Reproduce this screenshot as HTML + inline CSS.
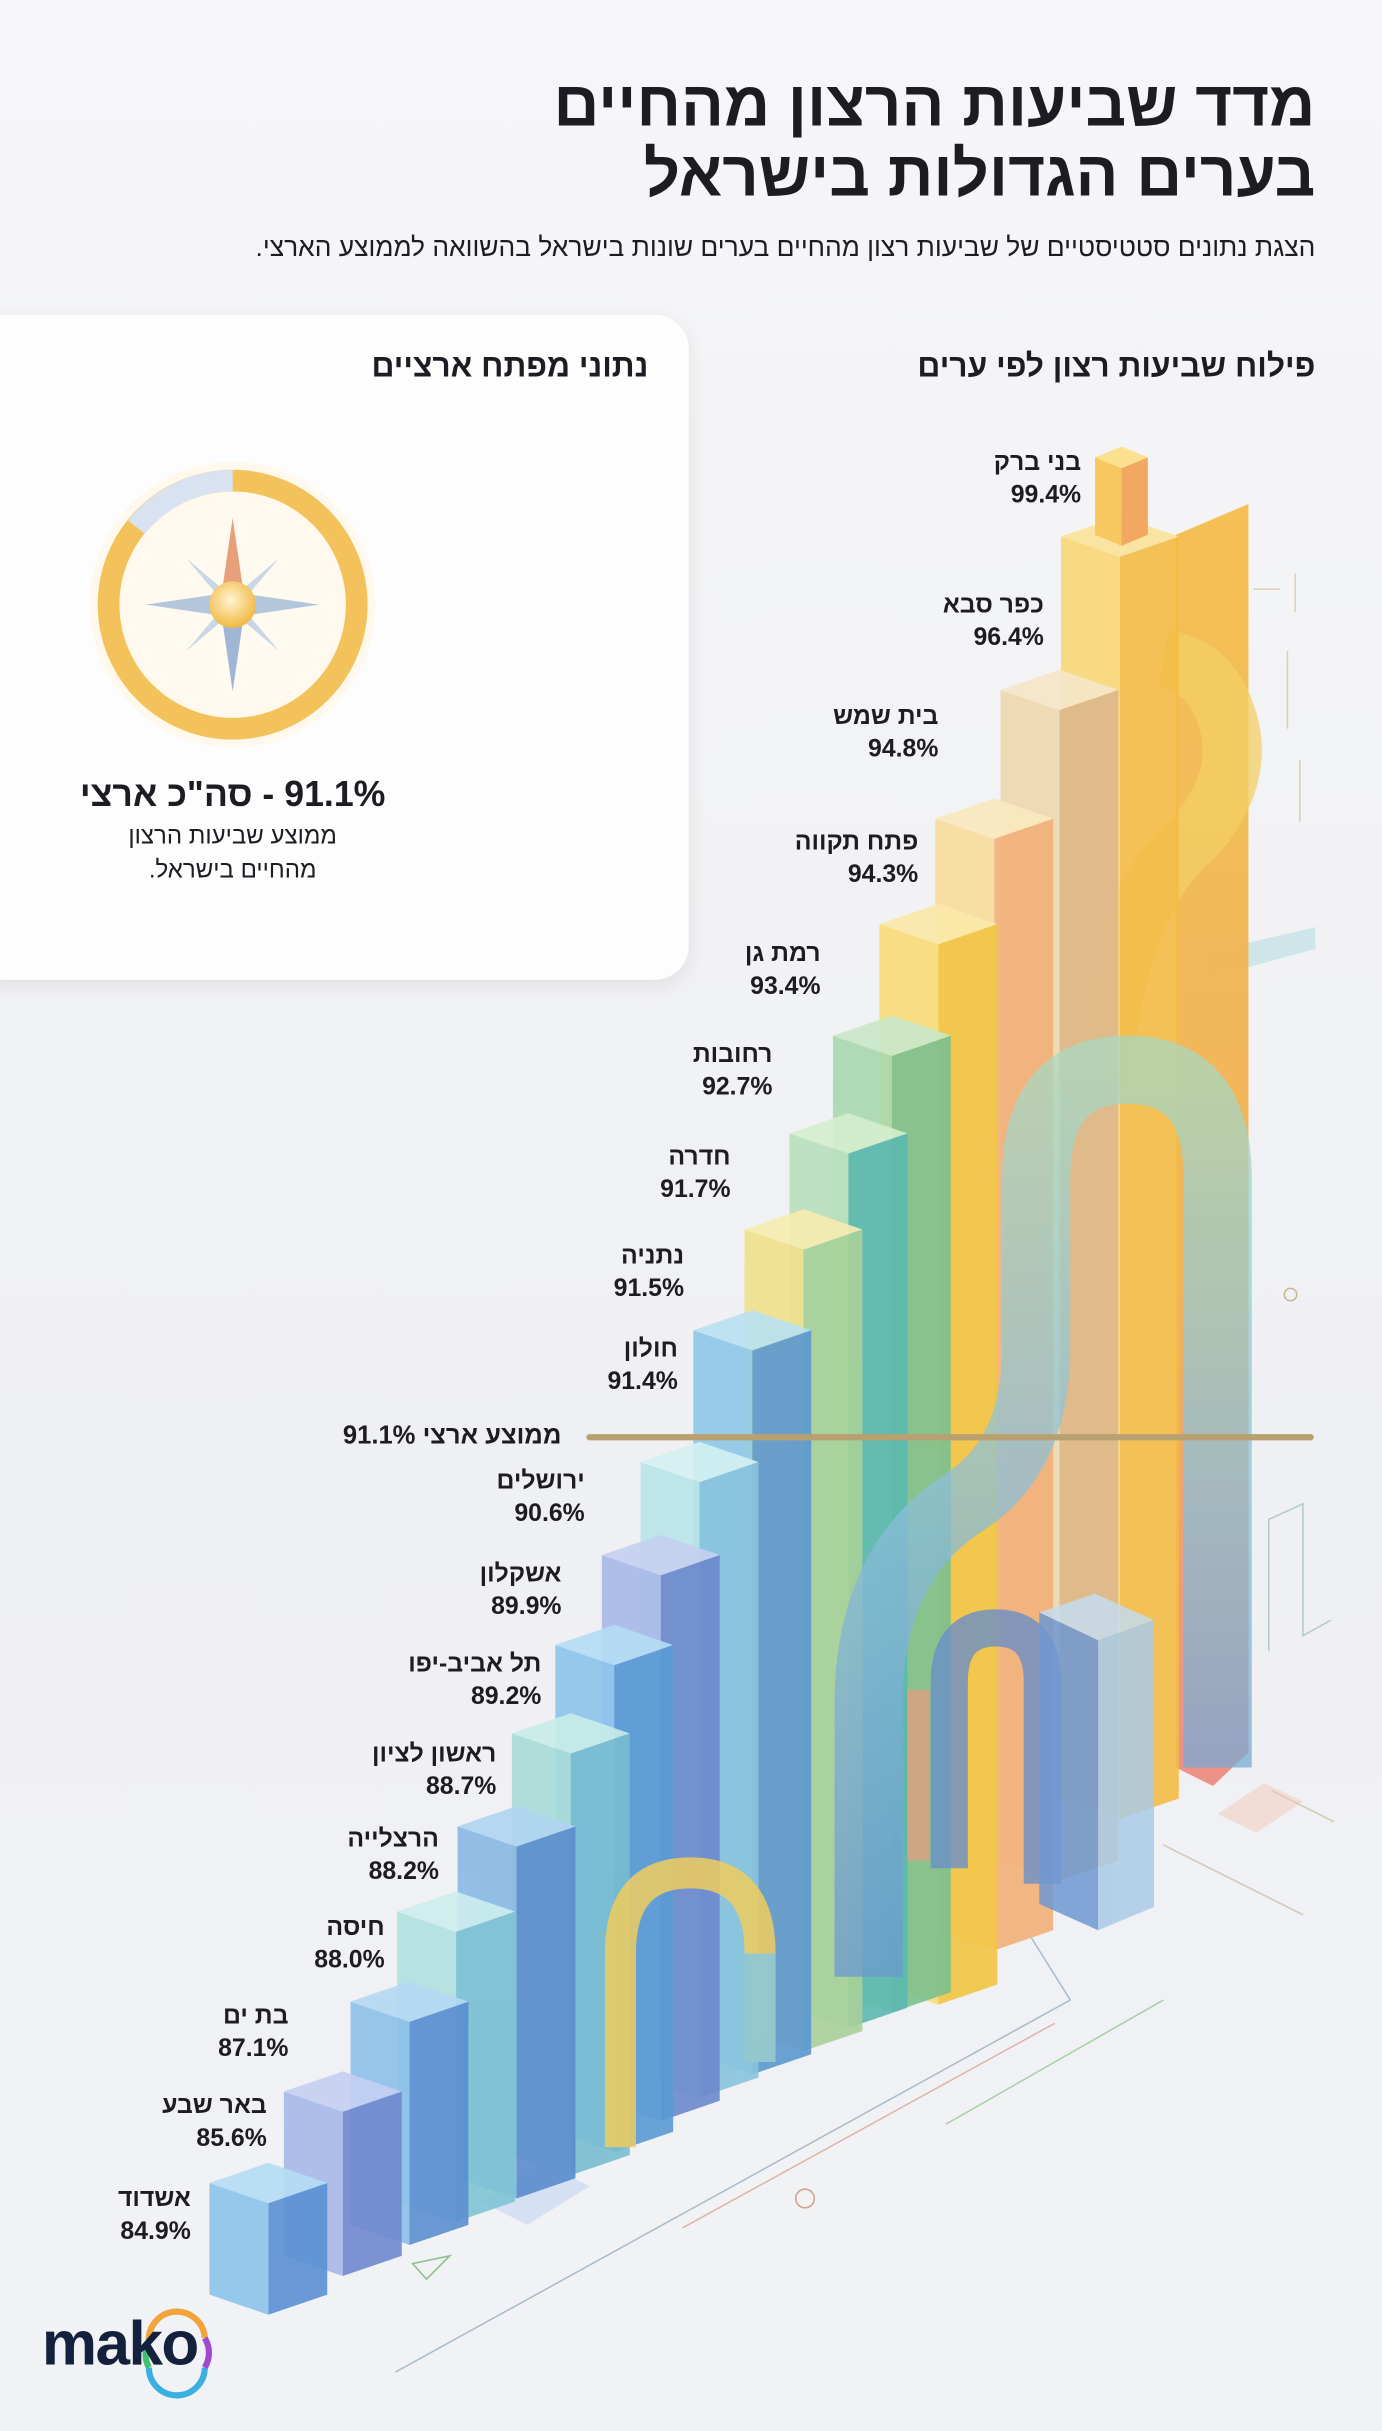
<!DOCTYPE html>
<html><head><meta charset="utf-8">
<style>
html,body{margin:0;padding:0;}
body{width:1382px;height:2431px;overflow:hidden;background:#f1f2f5;}
#w{position:absolute;left:0;top:0;width:891px;height:1568px;transform:scale(1.5511,1.5504);transform-origin:0 0;
background:linear-gradient(180deg,#f6f6f8 0%,#eff0f3 60%,#f1f2f5 100%);
font-family:"Liberation Sans","Noto Sans CJK SC",sans-serif;color:#1c1c22;}
.t{position:absolute;direction:rtl;white-space:nowrap;font-weight:bold;}
.l{font-size:16px;line-height:21px;text-align:right;}
svg{position:absolute;left:0;top:0;}
</style></head><body><div id="w">
<svg id="main" width="891" height="1568" viewBox="0 0 891 1568">
<defs>
<linearGradient id="gR" x1="0" y1="0" x2="0" y2="1"><stop offset="0" stop-color="#f5bd4a"/><stop offset="0.6" stop-color="#f0b050"/><stop offset="1" stop-color="#ec8a80"/></linearGradient>
<linearGradient id="gA" x1="0" y1="0" x2="0" y2="1"><stop offset="0" stop-color="#a8d8c0"/><stop offset="0.45" stop-color="#8cc0d8"/><stop offset="1" stop-color="#6a98d0"/></linearGradient>
<radialGradient id="sun" cx="0.45" cy="0.4" r="0.6"><stop offset="0" stop-color="#fff4d0"/><stop offset="1" stop-color="#f2b842"/></radialGradient>
<filter id="sh" x="-10%" y="-10%" width="120%" height="130%"><feDropShadow dx="0" dy="4" stdDeviation="6" flood-color="#000" flood-opacity="0.08"/></filter>
</defs>
<rect x="-20" y="203" width="464" height="429" rx="22" fill="#fdfdfd" filter="url(#sh)"/>
<g transform="translate(150,390)">
<circle r="92" fill="#fff7e6" opacity="0.7"/>
<circle r="80" fill="none" stroke="#f3c25a" stroke-width="14"/>
<path d="M0,-80 A80,80 0 0,0 -62,-50" fill="none" stroke="#d8e2f0" stroke-width="14"/>
<circle r="68" fill="#fffaf0"/>
<polygon points="0,-56 7,-8 0,0 -7,-8" fill="#e8a07a"/>
<polygon points="0,56 7,8 0,0 -7,8" fill="#9fb6d4"/>
<polygon points="-56,0 -8,-7 0,0 -8,7" fill="#b3c6dc"/>
<polygon points="56,0 8,-7 0,0 8,7" fill="#b3c6dc"/>
<polygon points="30,-30 4,-8 8,-4" fill="#c9d6e6"/><polygon points="-30,30 -4,8 -8,4" fill="#c9d6e6"/>
<polygon points="-30,-30 -8,-4 -4,-8" fill="#c9d6e6"/><polygon points="30,30 8,4 4,8" fill="#c9d6e6"/>
<circle r="15" fill="url(#sun)"/>
</g>
<g fill="none" stroke-width="1">
<path d="M255,1530 L690,1290 L665,1250" stroke="#7a9ab0" opacity="0.6"/>
<path d="M440,1437 L680,1305" stroke="#d99a8a" opacity="0.7"/>
<path d="M610,1370 L750,1290" stroke="#8cc08a" opacity="0.7"/>
<path d="M750,1190 L840,1235 M820,1155 L860,1175" stroke="#c8b8a0" opacity="0.7"/>
<path d="M818,1065 L818,980 L840,970 L840,1055 L858,1045" stroke="#8cb8a0" opacity="0.6"/>
<path d="M830,420 L830,470 M838,490 L838,530 M835,370 L835,395 M808,380 L825,380" stroke="#d8c8a0" opacity="0.8"/>
<circle cx="519" cy="1418" r="6" stroke="#d8a090"/>
<circle cx="832" cy="835" r="4" stroke="#c8b890"/>
<polygon points="266,1460 290,1455 275,1470" stroke="#8cc08a"/>
</g>
<polygon points="775,615 848,598 848,612 775,632" fill="#bfe0e4" opacity="0.7"/>
<polygon points="785,1170 815,1150 840,1162 810,1182" fill="#f3c8b8" opacity="0.5"/>
<polygon points="310,1420 350,1395 380,1410 340,1435" fill="#c9daf2" opacity="0.7"/>
<g opacity="0.93">
<polygon points="758,345 805,325 805,1130 782,1152 758,1140" fill="url(#gR)"/>
<path d="M710,700 Q720,580 770,540 Q805,500 790,460 Q780,430 750,425" fill="none" stroke="#f4cc5a" stroke-width="38" opacity="0.75"/>
</g>
<g id="bars"></g>
<g opacity="0.85">
<polygon points="670,1040 706,1028 744,1045 708,1058" fill="#c4dcef"/>
<polygon points="670,1040 708,1058 708,1245 670,1228" fill="#6f98d2"/>
<polygon points="708,1058 744,1045 744,1230 708,1245" fill="#a9cbe6"/>
</g>
<path d="M400,1385 L400,1260 Q400,1208 445,1208 Q490,1208 490,1260 L490,1330" fill="none" stroke="#f0cc5e" stroke-width="20" opacity="0.85"/>
<path d="M490,1260 L490,1330" fill="none" stroke="#8cc6d8" stroke-width="20" opacity="0.9"/>
<line x1="380" y1="927" x2="845" y2="927" stroke="#b8a070" stroke-width="4" stroke-linecap="round"/>
<path d="M96,1510 A18,18 0 0,1 132,1508" fill="none" stroke="#f2a33a" stroke-width="4"/>
<path d="M96,1527 A18,18 0 0,0 132,1527" fill="none" stroke="#3ab0e0" stroke-width="4"/>
<path d="M132,1508 A18,18 0 0,1 132,1527" fill="none" stroke="#a04ad0" stroke-width="4"/>
<path d="M96,1510 A18,18 0 0,0 96,1527" fill="none" stroke="#40c070" stroke-width="4"/>
</svg>

<div class="t" style="right:43px;top:42px;font-size:41px;line-height:50px;">מדד שביעות הרצון מהחיים</div>
<div class="t" style="right:43px;top:87px;font-size:41px;line-height:50px;">בערים הגדולות בישראל</div>
<div class="t" style="right:43px;top:149px;font-size:17px;font-weight:normal;line-height:22px;">הצגת נתונים סטטיסטיים של שביעות רצון מהחיים בערים שונות בישראל בהשוואה לממוצע הארצי.</div>
<div class="t" style="right:43px;top:224px;font-size:20.5px;line-height:26px;">פילוח שביעות רצון לפי ערים</div>
<div class="t" style="right:473px;top:224px;font-size:20.5px;line-height:26px;">נתוני מפתח ארציים</div>
<div class="t" style="left:0;width:300px;top:497px;font-size:23px;line-height:30px;text-align:center;">91.1% - סה"כ ארצי</div>
<div class="t" style="left:0;width:300px;top:529px;font-size:15.5px;font-weight:normal;line-height:22px;text-align:center;">ממוצע שביעות הרצון<br>מהחיים בישראל.</div>
<div class="t" style="right:529px;top:916px;font-size:16.5px;line-height:21px;">ממוצע ארצי 91.1%</div>
<div class="t" style="left:27px;top:1488px;font-size:40px;line-height:48px;color:#14213d;direction:ltr;letter-spacing:-1px;">mako</div>
<div id="labels"></div>
</div>
<script>
var bars=[
[684,333,1160,"#f8d775","#f4bc46","#fbe39a"],
[645,432,1200,"#eed9b0","#dcb88c","#f5e6c8"],
[603,515,1245,"#f7dc9c","#f2b078","#fae8be"],
[567,583,1280,"#f8dc78","#f2c444","#fbe8a8"],
[537,655,1285,"#a8d8ae","#7cc08e","#c8e8c8"],
[509,718,1295,"#b8e0bc","#5cb8b0","#d4eecc"],
[480,780,1310,"#f0e08a","#a8d09a","#f6ecb0"],
[447,845,1325,"#8cc8e8","#5a98d0","#b8e0f2"],
[413,930,1340,"#b8e4e8","#88c4dc","#d4f0f2"],
[388,990,1355,"#a8b8e8","#6c88cc","#c4d0f0"],
[358,1048,1375,"#8cc4ec","#5a9ad4","#b4dcf4"],
[330,1105,1390,"#a8dcd8","#78bcd0","#c8ece8"],
[295,1165,1405,"#88b8e4","#5a8ccc","#b0d4f0"],
[256,1220,1420,"#b0e0e0","#80c4d4","#cceeee"],
[226,1278,1435,"#8cc0e8","#5a8ed0","#b4d8f2"],
[183,1336,1455,"#a8b8e8","#7088d0","#c4d0f2"],
[135,1395,1480,"#8cc4ec","#5a90d4","#b4dcf4"]
];
var s='';
bars.forEach(function(b,i){
 var x=b[0],t=b[1],B=b[2],w=38,h=13;
 s+='<g opacity="0.9">';
 s+='<polygon points="'+x+','+(t+h)+' '+(x+w)+','+(t+2*h)+' '+(x+w)+','+(B+h)+' '+x+','+B+'" fill="'+b[3]+'"/>';
 s+='<polygon points="'+(x+w)+','+(t+2*h)+' '+(x+2*w)+','+(t+h)+' '+(x+2*w)+','+B+' '+(x+w)+','+(B+h)+'" fill="'+b[4]+'"/>';
 s+='<polygon points="'+x+','+(t+h)+' '+(x+w)+','+t+' '+(x+2*w)+','+(t+h)+' '+(x+w)+','+(t+2*h)+'" fill="'+b[5]+'"/>';
 s+='</g>';
 if(i==0){s+='<polygon points="706,295 723,288 740,295 723,302" fill="#fbe090"/><polygon points="706,295 723,302 723,352 706,345" fill="#f8c860"/><polygon points="723,302 740,295 740,345 723,352" fill="#f2a860"/>';}
 if(i==6){
  s+='<path d="M612,1205 L612,1085 Q612,1050 642,1050 Q672,1050 672,1085 L672,1215" fill="none" stroke="#6a90c8" stroke-width="24" opacity="0.8"/>';
  s+='<path d="M592,1090 L592,1200" stroke="#ec9a7e" stroke-width="14" opacity="0.7"/>';
  s+='<path d="M560,1275 L560,1100 Q560,1010 620,970 Q668,940 668,870 L668,760 Q668,690 727,690 Q785,690 785,760 L785,1140" fill="none" stroke="url(#gA)" stroke-width="44" opacity="0.75"/>';
 }
});
document.getElementById('bars').outerHTML='<g>'+s+'</g>';
var names=[["בני ברק","99.4%",697,298],["כפר סבא","96.4%",673,390],["בית שמש","94.8%",605,462],["פתח תקווה","94.3%",592,543],["רמת גן","93.4%",529,615],["רחובות","92.7%",498,680],["חדרה","91.7%",471,746],["נתניה","91.5%",441,810],["חולון","91.4%",437,870],["ירושלים","90.6%",377,955],["אשקלון","89.9%",362,1015],["תל אביב-יפו","89.2%",349,1073],["ראשון לציון","88.7%",320,1131],["הרצלייה","88.2%",283,1186],["חיסה","88.0%",248,1243],["בת ים","87.1%",186,1300],["באר שבע","85.6%",172,1358],["אשדוד","84.9%",123,1418]];
var L='';
names.forEach(function(n){
 L+='<div class="t l" style="right:'+(891-n[2])+'px;top:'+(n[3]-10)+'px;">'+n[0]+'<br>'+n[1]+'</div>';
});
document.getElementById('labels').innerHTML=L;
</script>
</body></html>
